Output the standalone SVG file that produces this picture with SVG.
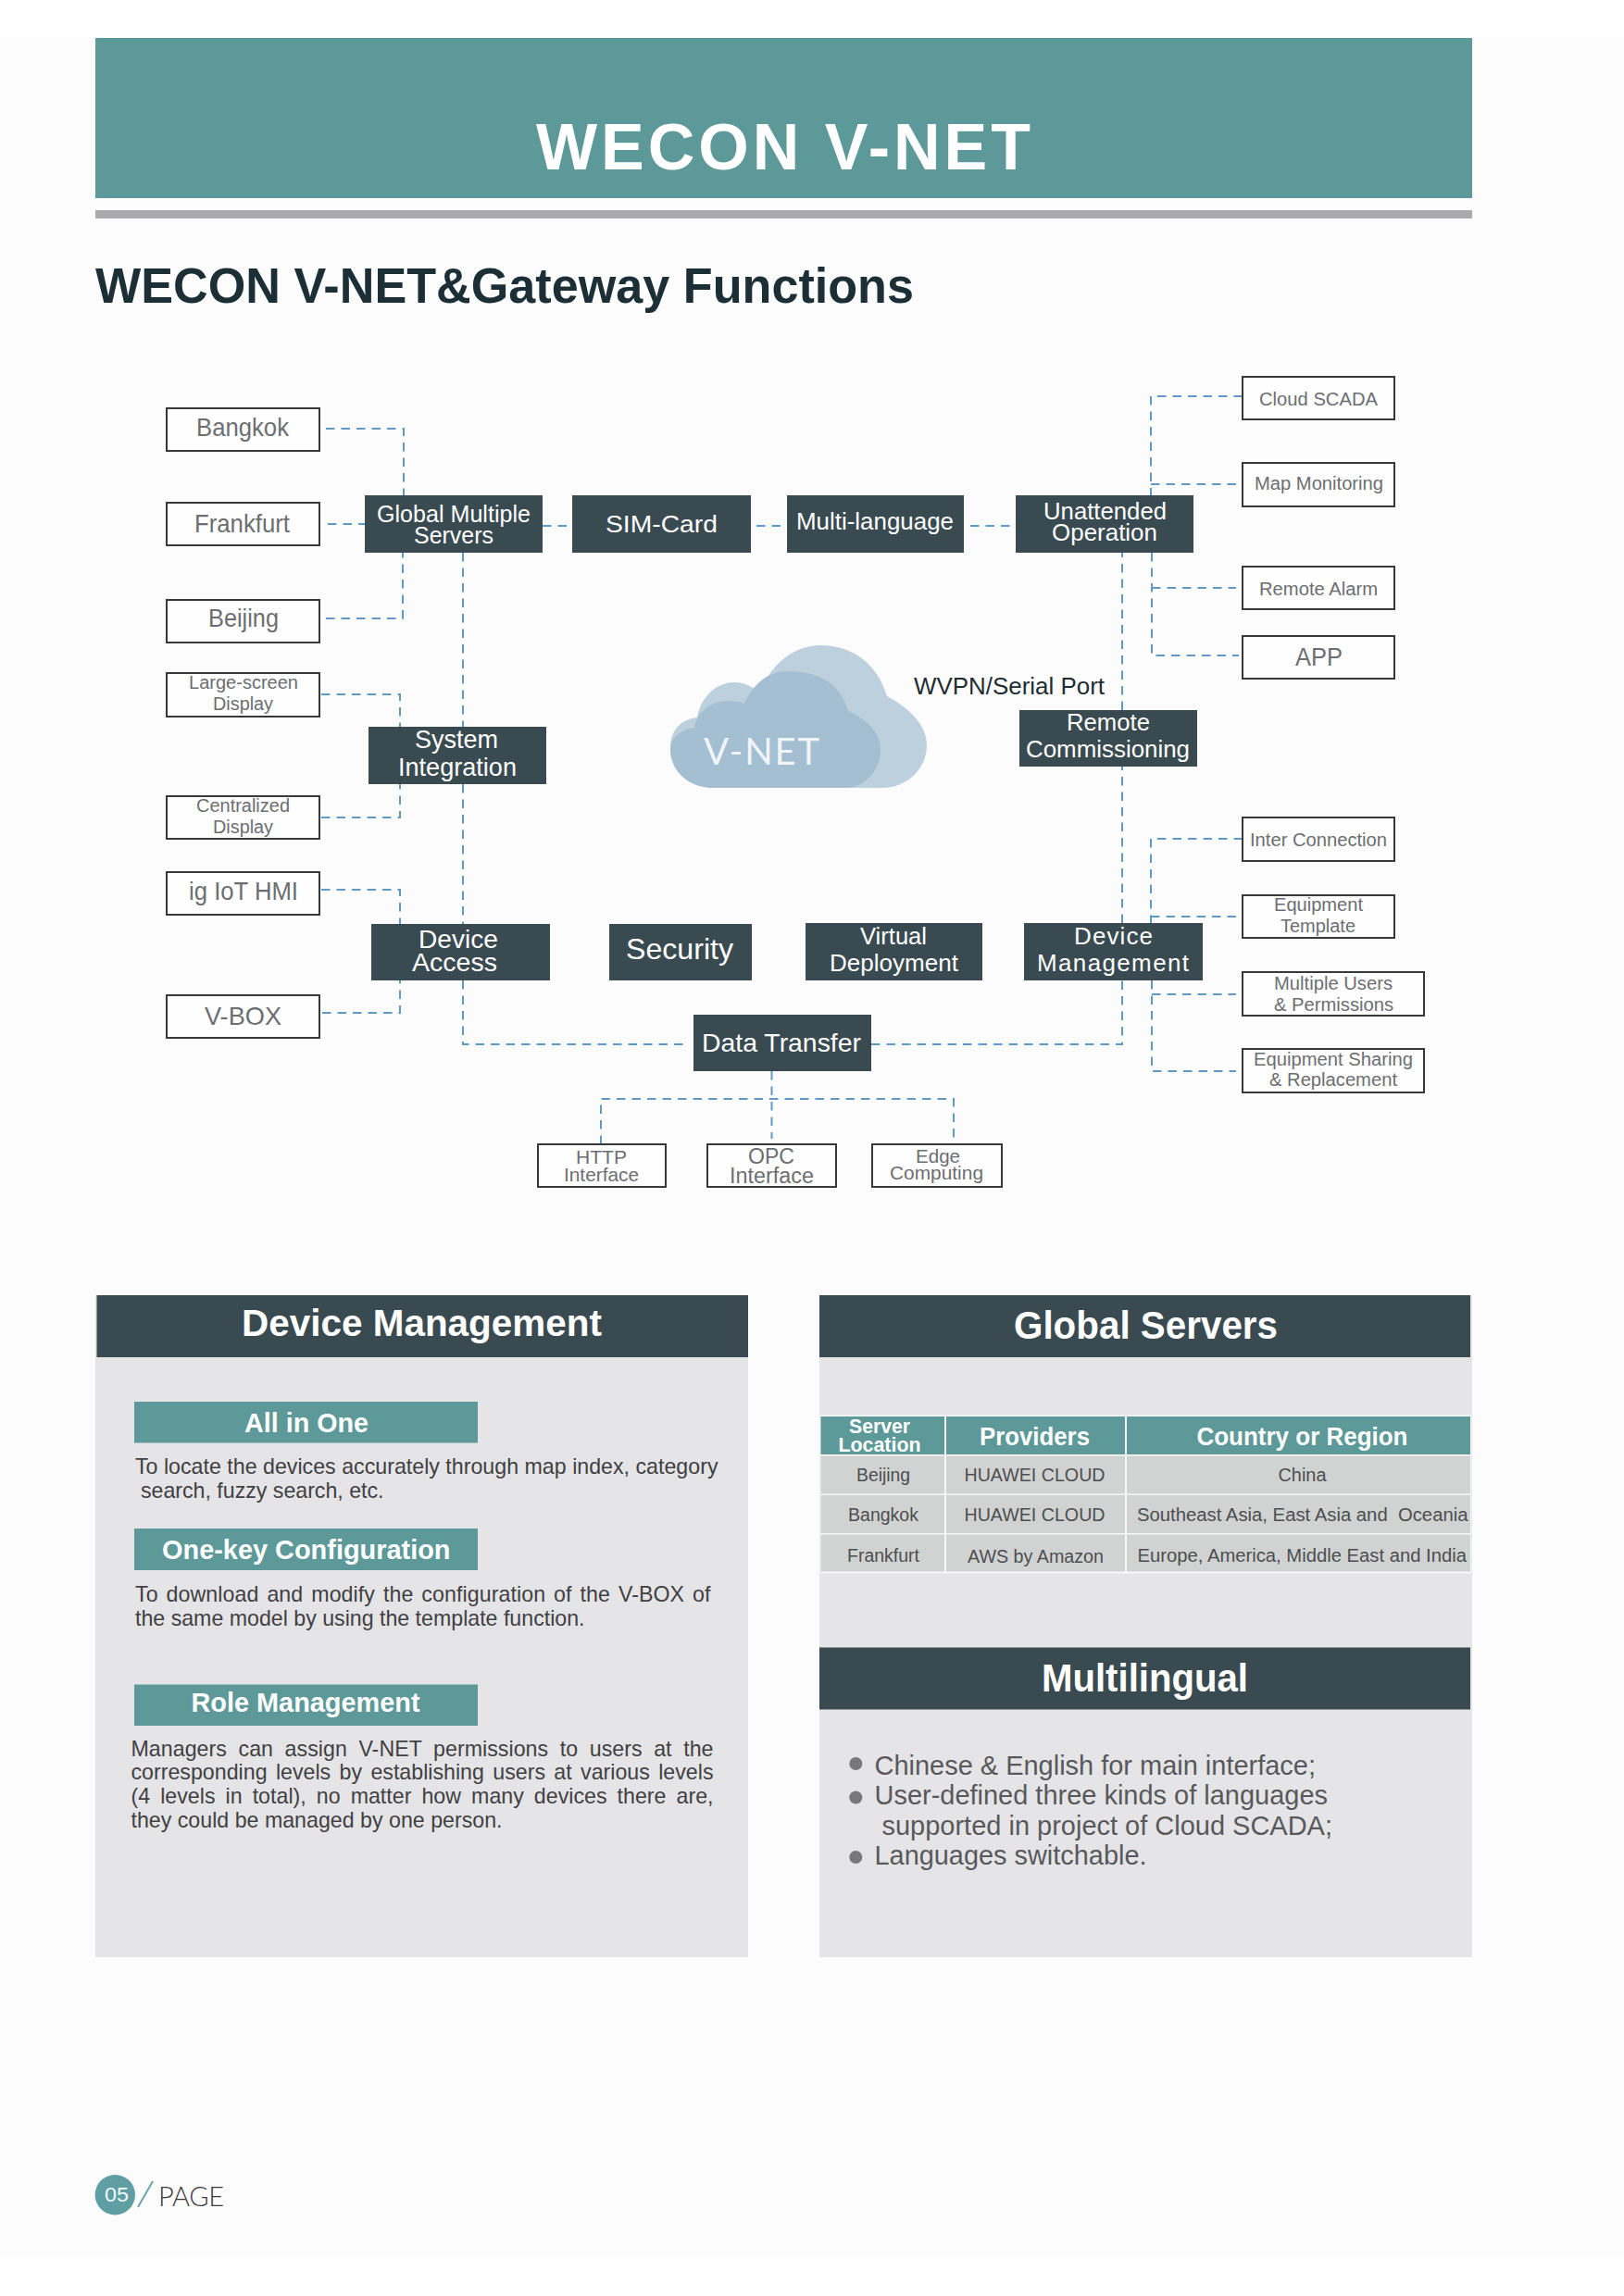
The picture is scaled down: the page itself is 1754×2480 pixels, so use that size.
<svg xmlns="http://www.w3.org/2000/svg" width="1754" height="2480" viewBox="0 0 1754 2480">
<style>
text{font-family:"Liberation Sans",Arial,sans-serif}
.dn{fill:#3a4a51}
.bx{fill:#fefefe;stroke:#38383a;stroke-width:2}
.w{fill:#fff}
.d{font-size:26px}
.g{fill:#6d6e71}
.c{fill:none;stroke:#5f9ac6;stroke-width:2;stroke-dasharray:9.500 7}
.h{fill:#fff;font-weight:700}
.teal{fill:#5c9998}
.b{font-size:23.200px;fill:#414042}
.td{font-size:20px;fill:#4d4e50}
.th{font-size:27px;font-weight:700;fill:#fff}
.m{font-size:29px;fill:#58595b}
.row{fill:#d1d3d2}
.bul{fill:#77787b}
</style>
<rect width="1754" height="2480" fill="#fff"/>
<rect y="41" width="1754" height="2396" fill="#fcfcfc"/>

<g id="page-header">
<rect x="103" y="41" width="1487" height="173" class="teal"/>
<rect x="103" y="227" width="1487" height="9" fill="#a9a9ae"/>
<text x="579" y="183" font-size="70" font-weight="700" fill="#fff" textLength="534" lengthAdjust="spacing">WECON V-NET</text>
<text x="103" y="327" font-size="53" font-weight="700" fill="#1d2f36" textLength="884" lengthAdjust="spacingAndGlyphs">WECON V-NET&amp;Gateway Functions</text>
</g>

<g id="connectors">
<path class="c" d="M352 463H436V535"/>
<path class="c" d="M354 566H394"/>
<path class="c" d="M352 668H435V597"/>
<path class="c" d="M586 568H618"/>
<path class="c" d="M817 568H850"/>
<path class="c" d="M1048 568H1097"/>
<path class="c" d="M500 597V785"/>
<path class="c" d="M500 847V998"/>
<path class="c" d="M347 750H432V785"/>
<path class="c" d="M347 883H432V847"/>
<path class="c" d="M347 961H432V998"/>
<path class="c" d="M348 1094H432V1059"/>
<path class="c" d="M500 1059V1128H740"/>
<path class="c" d="M941 1128H1212V1059"/>
<path class="c" d="M1212 997V828"/>
<path class="c" d="M1212 767V597"/>
<path class="c" d="M833.500 1157V1230"/>
<path class="c" d="M649 1236V1187H1030V1230"/>
<path class="c" d="M1342 428H1243V535"/>
<path class="c" d="M1243 523H1335"/>
<path class="c" d="M1244 597V708H1338"/>
<path class="c" d="M1244 635H1335"/>
<path class="c" d="M1342 906H1243V997"/>
<path class="c" d="M1243 990H1335"/>
<path class="c" d="M1244 1059V1157H1335"/>
<path class="c" d="M1244 1074H1335"/>
</g>

<g id="cloud">
<path fill="#bdd0dd" d="M775 851C745 851 724 832 724 808C724 790 734 777 753 775C756 755 772 737 793 737C803 737 812 741 820 748C834 716 858 697 886 697C922 697 948 718 958 752C984 766 1001 784 1001 805C1001 830 980 851 953 851Z"/>
<path fill="#a4bfd1" d="M770 851C743 851 724 832 724 810C724 797 733 789 750 786C752 769 768 757 788 757C794 757 799 758 804 760C814 738 830 725 850 725C884 725 908 738 916 768C938 778 951 792 951 810C951 832 934 851 912 851Z"/>
<text x="760" y="826" font-size="40" fill="#f1f5f8" style="font-family:Lato,'Liberation Sans',sans-serif" textLength="125" lengthAdjust="spacing">V-NET</text>
</g>
<g id="label-wvpn"><text x="987" y="750" font-size="26" fill="#1f2d33" textLength="206" lengthAdjust="spacingAndGlyphs">WVPN/Serial Port</text></g>

<g id="n-global"><rect class="dn" x="394" y="535" width="192" height="62"/><text class="w d" x="407" y="564" textLength="166" lengthAdjust="spacingAndGlyphs">Global Multiple</text><text class="w d" x="447" y="587" textLength="86" lengthAdjust="spacingAndGlyphs">Servers</text></g>
<g id="n-sim"><rect class="dn" x="618" y="535" width="193" height="62"/><text class="w d" x="654" y="575" textLength="121" lengthAdjust="spacingAndGlyphs">SIM-Card</text></g>
<g id="n-multilang"><rect class="dn" x="850" y="535" width="191" height="62"/><text class="w d" x="860" y="572" textLength="170" lengthAdjust="spacingAndGlyphs">Multi-language</text></g>
<g id="n-unattended"><rect class="dn" x="1097" y="535" width="192" height="62"/><text class="w d" x="1127" y="561" textLength="133" lengthAdjust="spacingAndGlyphs">Unattended</text><text class="w d" x="1136" y="584" textLength="114" lengthAdjust="spacingAndGlyphs">Operation</text></g>
<g id="n-system"><rect class="dn" x="398" y="785" width="192" height="62"/><text class="w" font-size="28" x="448" y="808" textLength="90" lengthAdjust="spacingAndGlyphs">System</text><text class="w" font-size="28" x="430" y="838" textLength="128" lengthAdjust="spacingAndGlyphs">Integration</text></g>
<g id="n-remote"><rect class="dn" x="1101" y="767" width="192" height="61"/><text class="w d" x="1152" y="789" textLength="90" lengthAdjust="spacingAndGlyphs">Remote</text><text class="w d" x="1108" y="818" textLength="177" lengthAdjust="spacingAndGlyphs">Commissioning</text></g>
<g id="n-access"><rect class="dn" x="401" y="998" width="193" height="61"/><text class="w" font-size="28" x="452" y="1024" textLength="86" lengthAdjust="spacingAndGlyphs">Device</text><text class="w" font-size="28" x="445" y="1049" textLength="92" lengthAdjust="spacingAndGlyphs">Access</text></g>
<g id="n-security"><rect class="dn" x="658" y="998" width="154" height="61"/><text class="w" font-size="32" x="676" y="1036" textLength="116" lengthAdjust="spacingAndGlyphs">Security</text></g>
<g id="n-virtual"><rect class="dn" x="870" y="997" width="191" height="62"/><text class="w d" x="929" y="1020" textLength="72" lengthAdjust="spacingAndGlyphs">Virtual</text><text class="w d" x="896" y="1049" textLength="139" lengthAdjust="spacingAndGlyphs">Deployment</text></g>
<g id="n-devmgmt"><rect class="dn" x="1106" y="997" width="193" height="62"/><text class="w d" x="1160" y="1020" textLength="85" lengthAdjust="spacing">Device</text><text class="w d" x="1120" y="1049" textLength="164" lengthAdjust="spacing">Management</text></g>
<g id="n-data"><rect class="dn" x="749" y="1096" width="192" height="61"/><text class="w" font-size="28" x="758" y="1136" textLength="172" lengthAdjust="spacingAndGlyphs">Data Transfer</text></g>

<g id="b-bangkok"><rect class="bx" x="180" y="441" width="165" height="46"/><text class="g" font-size="28" x="212" y="471" textLength="100" lengthAdjust="spacingAndGlyphs">Bangkok</text></g>
<g id="b-frankfurt"><rect class="bx" x="180" y="543" width="165" height="46"/><text class="g" font-size="28" x="210" y="575" textLength="103" lengthAdjust="spacingAndGlyphs">Frankfurt</text></g>
<g id="b-beijing"><rect class="bx" x="180" y="648" width="165" height="46"/><text class="g" font-size="28" x="225" y="677" textLength="76" lengthAdjust="spacingAndGlyphs">Beijing</text></g>
<g id="b-largescreen"><rect class="bx" x="180" y="727" width="165" height="47"/><text class="g" font-size="20" x="204" y="744" textLength="118" lengthAdjust="spacingAndGlyphs">Large-screen</text><text class="g" font-size="20" x="230" y="767" textLength="65" lengthAdjust="spacingAndGlyphs">Display</text></g>
<g id="b-centralized"><rect class="bx" x="180" y="860" width="165" height="46"/><text class="g" font-size="20" x="212" y="877" textLength="101" lengthAdjust="spacingAndGlyphs">Centralized</text><text class="g" font-size="20" x="230" y="900" textLength="65" lengthAdjust="spacingAndGlyphs">Display</text></g>
<g id="b-ighmi"><rect class="bx" x="180" y="942" width="165" height="46"/><text class="g" font-size="27" x="204" y="972" textLength="118" lengthAdjust="spacingAndGlyphs">ig IoT HMI</text></g>
<g id="b-vbox"><rect class="bx" x="180" y="1075" width="165" height="46"/><text class="g" font-size="28" x="221" y="1107" textLength="83" lengthAdjust="spacingAndGlyphs">V-BOX</text></g>
<g id="b-http"><rect class="bx" x="581" y="1236" width="138" height="46"/><text class="g" font-size="21" x="622" y="1257" textLength="55" lengthAdjust="spacingAndGlyphs">HTTP</text><text class="g" font-size="21" x="609" y="1276" textLength="81" lengthAdjust="spacingAndGlyphs">Interface</text></g>
<g id="b-opc"><rect class="bx" x="764" y="1236" width="139" height="46"/><text class="g" font-size="23" x="808" y="1257" textLength="50" lengthAdjust="spacingAndGlyphs">OPC</text><text class="g" font-size="23" x="788" y="1278" textLength="91" lengthAdjust="spacingAndGlyphs">Interface</text></g>
<g id="b-edge"><rect class="bx" x="942" y="1236" width="140" height="46"/><text class="g" font-size="21" x="989" y="1256" textLength="48" lengthAdjust="spacingAndGlyphs">Edge</text><text class="g" font-size="21" x="961" y="1274" textLength="101" lengthAdjust="spacingAndGlyphs">Computing</text></g>
<g id="b-scada"><rect class="bx" x="1342" y="407" width="164" height="46"/><text class="g" font-size="21" x="1360" y="438" textLength="128" lengthAdjust="spacingAndGlyphs">Cloud SCADA</text></g>
<g id="b-map"><rect class="bx" x="1342" y="500" width="164" height="47"/><text class="g" font-size="20" x="1355" y="529" textLength="139" lengthAdjust="spacingAndGlyphs">Map Monitoring</text></g>
<g id="b-alarm"><rect class="bx" x="1342" y="612" width="164" height="46"/><text class="g" font-size="20" x="1360" y="643" textLength="128" lengthAdjust="spacingAndGlyphs">Remote Alarm</text></g>
<g id="b-app"><rect class="bx" x="1342" y="687" width="164" height="46"/><text class="g" font-size="28" x="1399" y="719" textLength="51" lengthAdjust="spacingAndGlyphs">APP</text></g>
<g id="b-inter"><rect class="bx" x="1342" y="883" width="164" height="47"/><text class="g" font-size="20" x="1350" y="914" textLength="148" lengthAdjust="spacingAndGlyphs">Inter Connection</text></g>
<g id="b-template"><rect class="bx" x="1342" y="967" width="164" height="46"/><text class="g" font-size="20" x="1376" y="984" textLength="96" lengthAdjust="spacingAndGlyphs">Equipment</text><text class="g" font-size="20" x="1383" y="1007" textLength="81" lengthAdjust="spacingAndGlyphs">Template</text></g>
<g id="b-users"><rect class="bx" x="1342" y="1050" width="196" height="47"/><text class="g" font-size="20" x="1376" y="1069" textLength="128" lengthAdjust="spacingAndGlyphs">Multiple Users</text><text class="g" font-size="20" x="1376" y="1092" textLength="129" lengthAdjust="spacingAndGlyphs">&amp; Permissions</text></g>
<g id="b-sharing"><rect class="bx" x="1342" y="1133" width="196" height="47"/><text class="g" font-size="20" x="1354" y="1151" textLength="172" lengthAdjust="spacingAndGlyphs">Equipment Sharing</text><text class="g" font-size="20" x="1371" y="1173" textLength="138" lengthAdjust="spacingAndGlyphs">&amp; Replacement</text></g>

<g id="panel-device-management">
<rect x="103" y="1399" width="705" height="715" fill="#e5e5e7"/>
<rect x="104.500" y="1399" width="703.500" height="67" class="dn"/>
<text class="h" font-size="41" x="261" y="1443" textLength="389" lengthAdjust="spacingAndGlyphs">Device Management</text>
<rect x="145" y="1514" width="371" height="44.500" class="teal"/>
<text class="h" font-size="30" x="264" y="1546.500" textLength="134" lengthAdjust="spacingAndGlyphs">All in One</text>
<text class="b" x="146" y="1591.500" textLength="629.500">To locate the devices accurately through map index, category</text>
<text class="b" x="152" y="1617.500" textLength="262.500">search, fuzzy search, etc.</text>
<rect x="145" y="1651" width="371" height="45" class="teal"/>
<text class="h" font-size="30" x="175" y="1684" textLength="311.500" lengthAdjust="spacingAndGlyphs">One-key Configuration</text>
<text class="b" x="146" y="1729.500" word-spacing="2.400" textLength="621.500">To download and modify the configuration of the V-BOX of</text>
<text class="b" x="146" y="1755.500" textLength="485.500">the same model by using the template function.</text>
<rect x="145" y="1819.500" width="371" height="44.500" class="teal"/>
<text class="h" font-size="30" x="206.500" y="1849" textLength="247" lengthAdjust="spacingAndGlyphs">Role Management</text>
<text class="b" x="141.500" y="1896.500" word-spacing="6.100" textLength="629">Managers can assign V-NET permissions to users at the</text>
<text class="b" x="141.500" y="1922" word-spacing="2.900" textLength="629">corresponding levels by establishing users at various levels</text>
<text class="b" x="141.500" y="1948" word-spacing="4.600" textLength="629">(4 levels in total), no matter how many devices there are,</text>
<text class="b" x="141.500" y="1974" textLength="401">they could be managed by one person.</text>
</g>

<g id="panel-global-servers">
<rect x="885" y="1399" width="705" height="715" fill="#e5e5e7"/>
<rect x="885" y="1399" width="703" height="67" class="dn"/>
<text class="h" font-size="42" x="1095" y="1446" textLength="285" lengthAdjust="spacingAndGlyphs">Global Servers</text>
<g id="server-table">
<rect x="885.500" y="1528.500" width="703.500" height="171" fill="#f6f7f7"/>
<rect x="886.500" y="1530" width="133.500" height="41" class="teal"/><rect x="1022" y="1530" width="193" height="41" class="teal"/><rect x="1217" y="1530" width="371" height="41" class="teal"/>
<rect x="886.500" y="1572.500" width="133.500" height="41" class="row"/><rect x="1022" y="1572.500" width="193" height="41" class="row"/><rect x="1217" y="1572.500" width="371" height="41" class="row"/>
<rect x="886.500" y="1615" width="133.500" height="41" class="row"/><rect x="1022" y="1615" width="193" height="41" class="row"/><rect x="1217" y="1615" width="371" height="41" class="row"/>
<rect x="886.500" y="1657.500" width="133.500" height="40" class="row"/><rect x="1022" y="1657.500" width="193" height="40" class="row"/><rect x="1217" y="1657.500" width="371" height="40" class="row"/>
<text class="h" font-size="22" x="917" y="1548" textLength="66" lengthAdjust="spacingAndGlyphs">Server</text>
<text class="h" font-size="22" x="905.500" y="1568" textLength="89" lengthAdjust="spacingAndGlyphs">Location</text>
<text class="th" x="1058" y="1560.500" textLength="119" lengthAdjust="spacingAndGlyphs">Providers</text>
<text class="th" x="1292.500" y="1560.500" textLength="228" lengthAdjust="spacingAndGlyphs">Country or Region</text>
<text class="td" x="925" y="1600" textLength="58" lengthAdjust="spacingAndGlyphs">Beijing</text>
<text class="td" x="1041.500" y="1600" textLength="152" lengthAdjust="spacingAndGlyphs">HUAWEI CLOUD</text>
<text class="td" x="1380.500" y="1600" textLength="52" lengthAdjust="spacingAndGlyphs">China</text>
<text class="td" x="916" y="1642.500" textLength="76" lengthAdjust="spacingAndGlyphs">Bangkok</text>
<text class="td" x="1041.500" y="1642.500" textLength="152" lengthAdjust="spacingAndGlyphs">HUAWEI CLOUD</text>
<text class="td" x="1228" y="1642.500" textLength="357.500" lengthAdjust="spacingAndGlyphs" xml:space="preserve">Southeast Asia, East Asia and  Oceania</text>
<text class="td" x="915" y="1686.500" textLength="78" lengthAdjust="spacingAndGlyphs">Frankfurt</text>
<text class="td" x="1045" y="1687.500" textLength="147" lengthAdjust="spacingAndGlyphs">AWS by Amazon</text>
<text class="td" x="1228.500" y="1686.500" textLength="355.500" lengthAdjust="spacingAndGlyphs">Europe, America, Middle East and India</text>
</g>
</g>

<g id="panel-multilingual">
<rect x="885" y="1779.500" width="703" height="67" class="dn"/>
<text class="h" font-size="42" x="1125" y="1826.500" textLength="223" lengthAdjust="spacingAndGlyphs">Multilingual</text>
<circle class="bul" cx="924.300" cy="1905" r="7"/>
<circle class="bul" cx="924.300" cy="1941.500" r="7"/>
<circle class="bul" cx="924.300" cy="2006" r="7"/>
<text class="m" x="944.500" y="1916.500" textLength="476.500" lengthAdjust="spacingAndGlyphs">Chinese &amp; English for main interface;</text>
<text class="m" x="944.500" y="1948.500" textLength="489.500" lengthAdjust="spacingAndGlyphs">User-defined three kinds of languages</text>
<text class="m" x="952.500" y="1981.500" textLength="486.500" lengthAdjust="spacingAndGlyphs">supported in project of Cloud SCADA;</text>
<text class="m" x="944.500" y="2014" textLength="294" lengthAdjust="spacingAndGlyphs">Languages switchable.</text>
</g>

<g id="page-footer">
<circle cx="124.300" cy="2370.700" r="21.700" fill="#5f9ea3"/>
<text x="113" y="2378" font-size="22" fill="#f4fafa" textLength="26" lengthAdjust="spacingAndGlyphs">05</text>
<path d="M165 2356L149 2384" stroke="#6aa6ab" stroke-width="2" fill="none"/>
<text x="171" y="2383" font-size="29" fill="#3a3a3c" style="font-family:Lato,'Liberation Sans',sans-serif;font-weight:300" textLength="71" lengthAdjust="spacing">PAGE</text>
</g>
</svg>
